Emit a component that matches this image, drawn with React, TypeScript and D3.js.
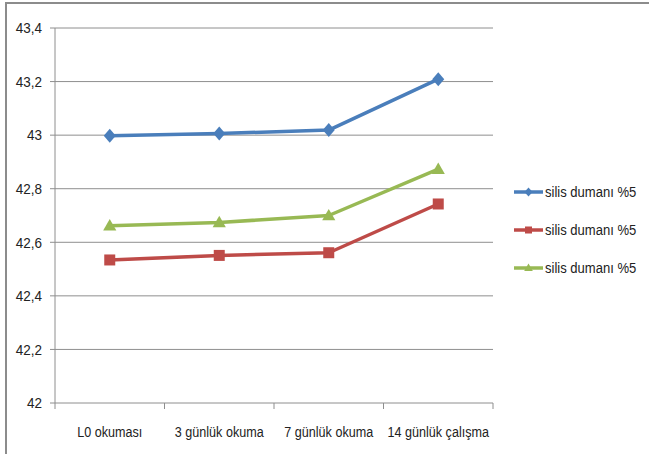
import React from "react";
import * as d3 from "d3";

const categories = ["L0 okuması", "3 günlük okuma", "7 günlük okuma", "14 günlük çalışma"];
const seriesNames = ["silis dumanı %5", "silis dumanı %5", "silis dumanı %5"];
const blueValues = [42.998, 43.006, 43.019, 43.209];
const redValues = [42.534, 42.551, 42.561, 42.743];
const greenValues = [42.662, 42.674, 42.7, 42.873];
const yTicks = [42, 42.2, 42.4, 42.6, 42.8, 43, 43.2, 43.4];

const W = 649;
const H = 454;
const plot = { left: 55, right: 493, top: 28, bottom: 403 };
const FONT = "'Liberation Sans', Arial, sans-serif";

type Shape = "diamond" | "square" | "triangle";
const series: { name: string; values: number[]; color: string; shape: Shape }[] = [
  { name: seriesNames[0], values: blueValues, color: "#4A7EBB", shape: "diamond" },
  { name: seriesNames[1], values: redValues, color: "#BE4B48", shape: "square" },
  { name: seriesNames[2], values: greenValues, color: "#98B954", shape: "triangle" },
];

// Narrow text: regular face squeezed horizontally around its anchor point
const NarrowText = ({
  x,
  y,
  anchor,
  sx = 0.84,
  children,
}: {
  x: number;
  y: number;
  anchor: "start" | "middle" | "end";
  sx?: number;
  children: React.ReactNode;
}) => (
  <text
    transform={`translate(${x},${y}) scale(${sx},1)`}
    textAnchor={anchor}
    dy="0.35em"
    fontSize={15}
    fill="#222"
  >
    {children}
  </text>
);

const Marker = ({ shape, color, x, y, big }: { shape: Shape; color: string; x: number; y: number; big: boolean }) => {
  if (shape === "diamond") {
    const h = big ? 7 : 4.5;
    const w = big ? 6 : 4;
    return <path d={`M${x},${y - h}L${x + w},${y}L${x},${y + h}L${x - w},${y}Z`} fill={color} />;
  }
  if (shape === "square") {
    const s = big ? 11 : 7;
    return <rect x={x - s / 2} y={y - s / 2} width={s} height={s} fill={color} />;
  }
  const sym = d3.symbol().type(d3.symbolTriangle).size(big ? 75 : 32)() as string;
  return <path d={sym} transform={`translate(${x},${y + (big ? 1 : 0.5)})`} fill={color} />;
};

export default function App() {
  const x = d3.scaleBand<string>().domain(categories).range([plot.left, plot.right]);
  const y = d3.scaleLinear().domain([42, 43.4]).range([plot.bottom, plot.top]);
  const cx = (i: number) => (x(categories[i]) as number) + x.bandwidth() / 2;
  const line = d3
    .line<number>()
    .x((_, i) => cx(i))
    .y((d) => y(d));

  const legendY = [192, 230, 268];

  return (
    <svg
      width={W}
      height={H}
      style={{ position: "absolute", left: 0, top: 0, background: "#fff" }}
      fontFamily={FONT}
    >
      <rect x={6} y={3} width={W + 10} height={H + 10} fill="#fff" stroke="#8c8c8c" strokeWidth={2} />

      {/* horizontal gridlines and value axis */}
      {yTicks.map((t) => (
        <g key={t}>
          <line x1={plot.left - 5} x2={plot.right} y1={y(t)} y2={y(t)} stroke="#8e8e8e" strokeWidth={1} />
          <NarrowText x={plot.left - 13} y={y(t)} anchor="end" sx={0.9}>
            {String(t).replace(".", ",")}
          </NarrowText>
        </g>
      ))}
      <line x1={plot.left} x2={plot.left} y1={plot.top} y2={plot.bottom} stroke="#8e8e8e" strokeWidth={1} />

      {/* category axis ticks and labels */}
      {[...categories.map((c) => x(c) as number), plot.right].map((px, i) => (
        <line key={i} x1={px} x2={px} y1={plot.bottom} y2={plot.bottom + 6} stroke="#8e8e8e" strokeWidth={1} />
      ))}
      {categories.map((c, i) => (
        <NarrowText key={c} x={cx(i)} y={432} anchor="middle">
          {c}
        </NarrowText>
      ))}

      {/* series lines and markers */}
      {series.map((s, si) => (
        <g key={si}>
          <path d={line(s.values) as string} fill="none" stroke={s.color} strokeWidth={3.5} strokeLinejoin="round" />
          {s.values.map((v, i) => (
            <Marker key={i} shape={s.shape} color={s.color} x={cx(i)} y={y(v)} big />
          ))}
        </g>
      ))}

      {/* legend */}
      {series.map((s, si) => (
        <g key={si}>
          <line x1={514} x2={543} y1={legendY[si]} y2={legendY[si]} stroke={s.color} strokeWidth={3.5} />
          <Marker shape={s.shape} color={s.color} x={528.5} y={legendY[si]} big={false} />
          <NarrowText x={545} y={legendY[si]} anchor="start" sx={0.87}>
            {s.name}
          </NarrowText>
        </g>
      ))}
    </svg>
  );
}
